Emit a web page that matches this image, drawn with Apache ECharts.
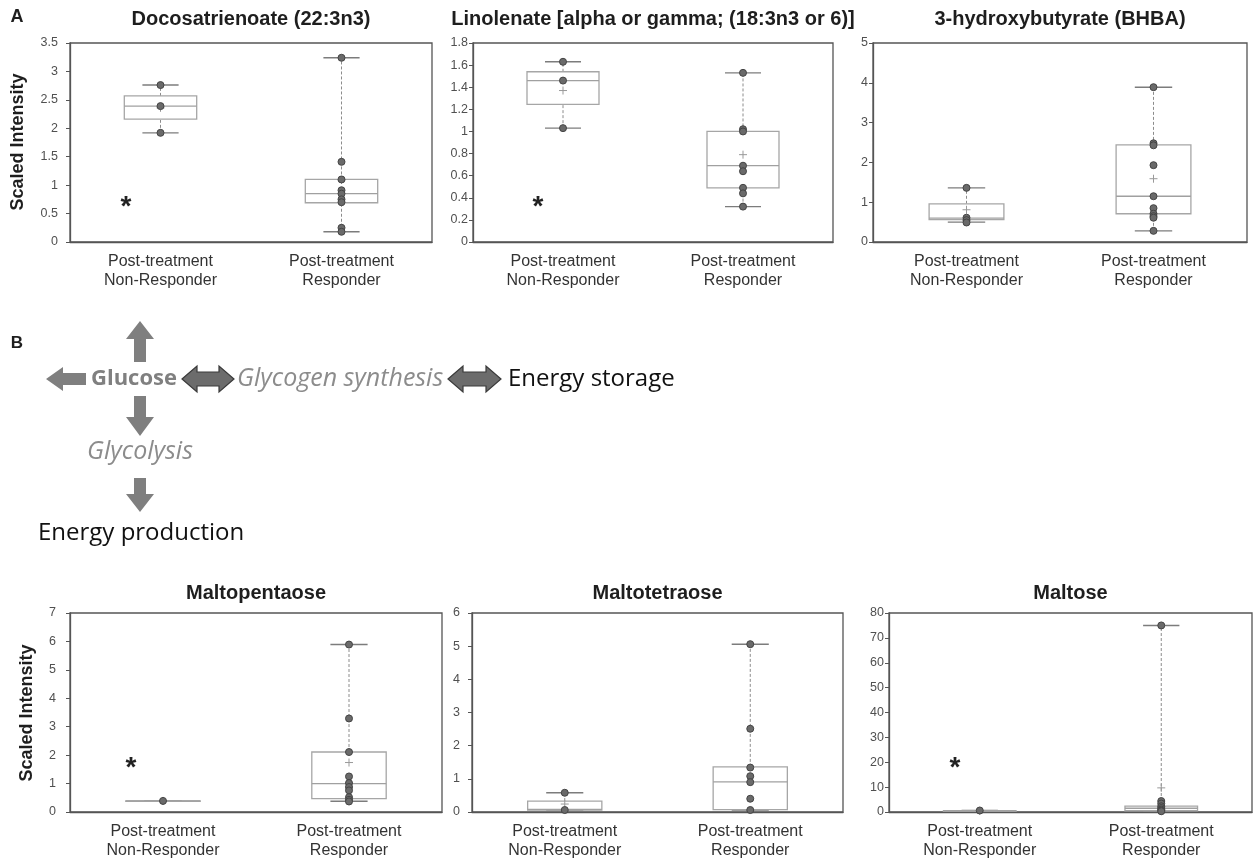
<!DOCTYPE html>
<html><head><meta charset="utf-8">
<script src="https://cdn.jsdelivr.net/npm/echarts@6/dist/echarts.min.js"></script>
<style>html,body{margin:0;padding:0;background:#fff}#c{width:1253px;height:860px}</style>
</head><body><div id="c"></div>
<script>
// ---------- data ----------
const categories = ['Post-treatment\nNon-Responder', 'Post-treatment\nResponder'];
const panelTitles = ['Docosatrienoate (22:3n3)', 'Linolenate [alpha or gamma; (18:3n3 or 6)]', '3-hydroxybutyrate (BHBA)',
                     'Maltopentaose', 'Maltotetraose', 'Maltose'];
const yMaxes = [3.5, 1.8, 5, 7, 6, 80];
const yIntervals = [0.5, 0.2, 1, 1, 1, 10];

// individual points
const docoNR = [2.76, 2.39, 1.92];
const docoR = [3.24, 1.41, 1.10, 0.91, 0.85, 0.75, 0.70, 0.25, 0.18];
const linoNR = [1.63, 1.46, 1.03];
const linoR = [1.53, 1.02, 1.00, 0.69, 0.64, 0.49, 0.44, 0.32];
const bhbaNR = [1.36, 0.61, 0.55, 0.49];
const bhbaR = [3.89, 2.48, 2.43, 1.93, 1.15, 0.85, 0.71, 0.65, 0.61, 0.28];
const pentaNR = [0.39];
const pentaR = [5.89, 3.29, 2.11, 1.25, 1.02, 0.88, 0.76, 0.52, 0.43, 0.37];
const tetraNR = [0.58, 0.06];
const tetraR = [5.06, 2.51, 1.34, 1.08, 0.90, 0.40, 0.06];
const maltNR = [0.6];
const maltR = [75.0, 4.4, 3.4, 2.3, 1.6, 1.0, 0.6, 0.3];

// box statistics: [min, q1, median, q3, max, mean]
const docoBoxNR = [1.92, 2.16, 2.39, 2.57, 2.76, 2.36];
const docoBoxR = [0.18, 0.69, 0.85, 1.10, 3.24, 1.09];
const linoBoxNR = [1.03, 1.245, 1.46, 1.54, 1.63, 1.37];
const linoBoxR = [0.32, 0.49, 0.69, 1.00, 1.53, 0.79];
const bhbaBoxNR = [0.50, 0.56, 0.60, 0.96, 1.36, 0.81];
const bhbaBoxR = [0.28, 0.71, 1.15, 2.44, 3.89, 1.59];
const pentaBoxNR = [0.39, 0.39, 0.39, 0.39, 0.39, 0.39];
const pentaBoxR = [0.38, 0.47, 1.00, 2.11, 5.89, 1.74];
const tetraBoxNR = [0.06, 0.06, 0.08, 0.33, 0.58, 0.24];
const tetraBoxR = [0.06, 0.07, 0.91, 1.36, 5.06, null];
const maltBoxNR = [0.3, 0.3, 0.4, 0.5, 0.6, 0.45];
const maltBoxR = [0.3, 0.5, 1.5, 2.4, 75.0, 9.7];

const panelPoints = [[docoNR, docoR], [linoNR, linoR], [bhbaNR, bhbaR], [pentaNR, pentaR], [tetraNR, tetraR], [maltNR, maltR]];
const panelBoxes = [[docoBoxNR, docoBoxR], [linoBoxNR, linoBoxR], [bhbaBoxNR, bhbaBoxR], [pentaBoxNR, pentaBoxR], [tetraBoxNR, tetraBoxR], [maltBoxNR, maltBoxR]];

// ---------- layout ----------
const grids = [
  {left: 70, top: 43, width: 362, height: 199},
  {left: 473, top: 43, width: 360, height: 199},
  {left: 873, top: 43, width: 374, height: 199},
  {left: 70, top: 613, width: 372, height: 199},
  {left: 472, top: 613, width: 371, height: 199},
  {left: 889, top: 613, width: 363, height: 199}
];
const labelMargins = [12, 5, 5, 14, 12, 5];
const FONT = 'Liberation Sans, Arial, sans-serif';
const DFONT = 'Open Sans, sans-serif';

function renderBox(params, api) {
  const x = api.value(0);
  const mn = api.value(1), q1 = api.value(2), md = api.value(3), q3 = api.value(4), mx = api.value(5), mean = api.value(6);
  const band = api.size([1, 0])[0];
  const bw = band * 0.4, cw = bw * 0.5;
  const c = v => api.coord([x, v]);
  const pMin = c(mn), pQ1 = c(q1), pMd = c(md), pQ3 = c(q3), pMx = c(mx);
  const cx = pMin[0];
  const dash = {stroke: '#8c8c8c', lineWidth: 1, lineDash: [3, 2]};
  const cap = {stroke: '#7c7c7c', lineWidth: 1.4};
  const ch = [
    {type: 'line', shape: {x1: cx, y1: pQ3[1], x2: cx, y2: pMx[1]}, style: dash},
    {type: 'line', shape: {x1: cx, y1: pMin[1], x2: cx, y2: pQ1[1]}, style: dash},
    {type: 'line', shape: {x1: cx - cw / 2, y1: pMx[1], x2: cx + cw / 2, y2: pMx[1]}, style: cap},
    {type: 'line', shape: {x1: cx - cw / 2, y1: pMin[1], x2: cx + cw / 2, y2: pMin[1]}, style: cap},
    {type: 'rect', shape: {x: cx - bw / 2, y: pQ3[1], width: bw, height: Math.max(pQ1[1] - pQ3[1], 0.5)},
      style: {fill: '#fff', stroke: '#a6a6a6', lineWidth: 1.3}},
    {type: 'line', shape: {x1: cx - bw / 2, y1: pMd[1], x2: cx + bw / 2, y2: pMd[1]}, style: {stroke: '#a0a0a0', lineWidth: 1.3}}
  ];
  if (!isNaN(mean)) {
    const pm = c(mean);
    const s = {stroke: '#999', lineWidth: 1};
    ch.push({type: 'line', shape: {x1: pm[0] - 4, y1: pm[1], x2: pm[0] + 4, y2: pm[1]}, style: s});
    ch.push({type: 'line', shape: {x1: pm[0], y1: pm[1] - 4, x2: pm[0], y2: pm[1] + 4}, style: s});
  }
  return {type: 'group', children: ch};
}

const xAxes = [], yAxes = [], series = [];
grids.forEach((g, i) => {
  xAxes.push({
    type: 'category', gridIndex: i, data: categories, boundaryGap: true,
    axisLine: {lineStyle: {color: '#555', width: 1.3}},
    axisTick: {alignWithLabel: true, length: 5, lineStyle: {color: '#555'}},
    axisLabel: {fontSize: 16, color: '#333', lineHeight: 19, margin: 10, fontFamily: FONT},
    splitLine: {show: false}
  });
  yAxes.push({
    type: 'value', gridIndex: i, min: 0, max: yMaxes[i], interval: yIntervals[i],
    axisLine: {show: true, lineStyle: {color: '#555', width: 1.3}},
    axisTick: {show: true, length: 4, lineStyle: {color: '#555'}},
    axisLabel: {fontSize: 12.5, color: '#505050', margin: labelMargins[i], fontFamily: FONT},
    splitLine: {show: false}
  });
  const boxes = panelBoxes[i];
  series.push({
    type: 'custom', xAxisIndex: i, yAxisIndex: i, renderItem: renderBox,
    encode: {x: 0, y: [1, 2, 3, 4, 5]}, silent: true, z: 2,
    data: boxes.map((b, k) => [k].concat(b.map(v => v === null ? '-' : v)))
  });
  const pts = panelPoints[i];
  series.push({
    type: 'scatter', xAxisIndex: i, yAxisIndex: i, symbol: 'circle', symbolSize: 7, z: 3, silent: true,
    itemStyle: {color: '#6a6a6a', borderColor: '#444', borderWidth: 1, opacity: 1},
    data: pts[0].map(v => [0, v]).concat(pts[1].map(v => [1, v]))
  });
});

// ---------- annotations ----------
function txt(x, y, text, size, opts) {
  opts = opts || {};
  return {type: 'text', x: x, y: y, rotation: opts.rotation || 0, z: 10, silent: true,
    style: {text: text, fontSize: size, fontFamily: opts.family || FONT, fontWeight: opts.weight || 'normal',
      fontStyle: opts.style || 'normal', fill: opts.color || '#222',
      align: opts.align || 'center', verticalAlign: 'middle', textAlign: opts.align || 'center', textVerticalAlign: 'middle'}};
}
const graphics = [];
panelTitles.forEach((t, i) => {
  const g = grids[i];
  graphics.push(txt(g.left + g.width / 2, i < 3 ? 19 : 593, t, 20, {weight: 'bold', color: '#1e1e1e'}));
});
graphics.push(txt(18, 142, 'Scaled Intensity', 18, {weight: 'bold', rotation: Math.PI / 2, color: '#1e1e1e'}));
graphics.push(txt(27, 713, 'Scaled Intensity', 18, {weight: 'bold', rotation: Math.PI / 2, color: '#1e1e1e'}));
graphics.push(txt(17, 17, 'A', 18, {weight: 'bold', color: '#1e1e1e'}));
graphics.push(txt(17, 343, 'B', 17, {weight: 'bold', color: '#1e1e1e'}));
[[126, 207], [538, 207], [131, 768], [955, 768]].forEach(p => graphics.push(txt(p[0], p[1], '*', 28, {weight: 'bold', color: '#222'})));

// diagram arrows
const AG = '#7f7f7f';
function poly(points, fill, stroke) {
  return {type: 'polygon', z: 5, silent: true, shape: {points: points}, style: {fill: fill, stroke: stroke || null, lineWidth: stroke ? 1.2 : 0}};
}
const RY = 379; // main row
const AX = 140; // vertical arrow column
graphics.push(poly([[AX, 321], [AX + 14, 339], [AX + 6, 339], [AX + 6, 362], [AX - 6, 362], [AX - 6, 339], [AX - 14, 339]], AG));
graphics.push(poly([[46, RY], [63, RY - 12], [63, RY - 6], [86, RY - 6], [86, RY + 6], [63, RY + 6], [63, RY + 12]], AG));
graphics.push(poly([[AX - 14, 417], [AX - 6, 417], [AX - 6, 396], [AX + 6, 396], [AX + 6, 417], [AX + 14, 417], [AX, 436]], AG));
graphics.push(poly([[AX - 14, 494], [AX - 6, 494], [AX - 6, 478], [AX + 6, 478], [AX + 6, 494], [AX + 14, 494], [AX, 512]], AG));
function dbl(x1, x2, y) {
  const h = 13, s = 7, hl = 15;
  return poly([[x1, y], [x1 + hl, y - h], [x1 + hl, y - s], [x2 - hl, y - s], [x2 - hl, y - h], [x2, y], [x2 - hl, y + h], [x2 - hl, y + s], [x1 + hl, y + s], [x1 + hl, y + h]], '#6c6c6c', '#3a3a3a');
}
graphics.push(dbl(182, 234, RY));
graphics.push(dbl(448, 501, RY));
graphics.push(txt(91, RY, 'Glucose', 22, {family: DFONT, weight: 'bold', color: '#808080', align: 'left'}));
graphics.push(txt(237, RY, 'Glycogen synthesis', 25, {family: DFONT, style: 'italic', color: '#8c8c8c', align: 'left'}));
graphics.push(txt(508, RY, 'Energy storage', 24, {family: DFONT, color: '#111', align: 'left'}));
graphics.push(txt(AX, 452, 'Glycolysis', 25, {family: DFONT, style: 'italic', color: '#8c8c8c'}));
graphics.push(txt(38, 533, 'Energy production', 24, {family: DFONT, color: '#111', align: 'left'}));

const chart = echarts.init(document.getElementById('c'), null, {renderer: 'canvas'});
chart.setOption({
  animation: false,
  backgroundColor: '#fff',
  grid: grids.map(g => Object.assign({show: true, borderColor: '#555', borderWidth: 1.3, backgroundColor: 'transparent', containLabel: false}, g)),
  xAxis: xAxes,
  yAxis: yAxes,
  series: series,
  graphic: {elements: graphics}
});
</script></body></html>
